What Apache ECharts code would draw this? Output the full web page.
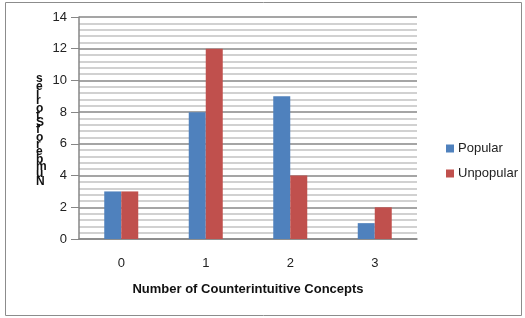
<!DOCTYPE html>
<html>
<head>
<meta charset="utf-8">
<script src="https://cdn.jsdelivr.net/npm/echarts@6/dist/echarts.min.js"></script>
<style>
  html, body { margin: 0; padding: 0; background: #fff; }
  #main { width: 525px; height: 318px; }
</style>
</head>
<body>
<div id="main"></div>
<script>
var categories = ['0', '1', '2', '3'];
var popular = [3, 8, 9, 1];
var unpopular = [3, 12, 4, 2];
var yTitle = 'Number of Stories';
var xTitle = 'Number of Counterintuitive Concepts';

var font = '"Liberation Sans", Arial, sans-serif';
// the y title in the picture is stacked letter by letter, bottom to top, spaces squeezed out
var stacked = yTitle.replace(/ /g, '').split('').reverse().join('\n');

var chart = echarts.init(document.getElementById('main'));
var option = {
  animation: false,
  textStyle: { fontFamily: font },
  graphic: [
    {
      type: 'rect',
      shape: { x: 5.5, y: 2.5, width: 516, height: 313 },
      style: { fill: 'none', stroke: '#8c8c8c', lineWidth: 1 }
    },
    {
      type: 'text',
      left: 36,
      top: 73,
      style: {
        text: stacked,
        font: 'bold 12px ' + font,
        lineHeight: 7.3,
        fill: '#111',
        align: 'center'
      }
    }
  ],
  legend: {
    orient: 'vertical',
    left: 441,
    top: 137,
    itemWidth: 8,
    itemHeight: 8,
    itemGap: 12,
    icon: 'rect',
    textStyle: { fontSize: 13, color: '#222', padding: [0, 0, 0, -1] },
    data: ['Popular', 'Unpopular']
  },
  grid: { left: 79, right: 108, top: 17, bottom: 79 },
  xAxis: {
    type: 'category',
    data: categories,
    name: xTitle,
    nameLocation: 'middle',
    nameGap: 44,
    nameTextStyle: { fontSize: 13, fontWeight: 'bold', color: '#111' },
    axisLine: { lineStyle: { color: '#868686', width: 1.5 } },
    axisTick: { show: false },
    axisLabel: { margin: 18, fontSize: 13, color: '#222' }
  },
  yAxis: {
    type: 'value',
    min: 0,
    max: 14,
    interval: 2,
    axisLine: { show: true, lineStyle: { color: '#868686', width: 1.5 } },
    axisTick: { show: true, length: 8, lineStyle: { color: '#868686' } },
    axisLabel: { margin: 12, fontSize: 13, color: '#222' },
    splitLine: { lineStyle: { color: '#878787', width: 1.5 } },
    minorTick: { show: false, splitNumber: 5 },
    minorSplitLine: { show: true, lineStyle: { color: '#c2c2c2', width: 1.5 } }
  },
  series: [
    {
      name: 'Popular',
      type: 'bar',
      data: popular,
      barWidth: 17,
      barGap: '0%',
      itemStyle: { color: '#4f81bd' }
    },
    {
      name: 'Unpopular',
      type: 'bar',
      data: unpopular,
      barWidth: 17,
      itemStyle: { color: '#c0504d' }
    }
  ]
};
chart.setOption(option);
</script>
</body>
</html>
